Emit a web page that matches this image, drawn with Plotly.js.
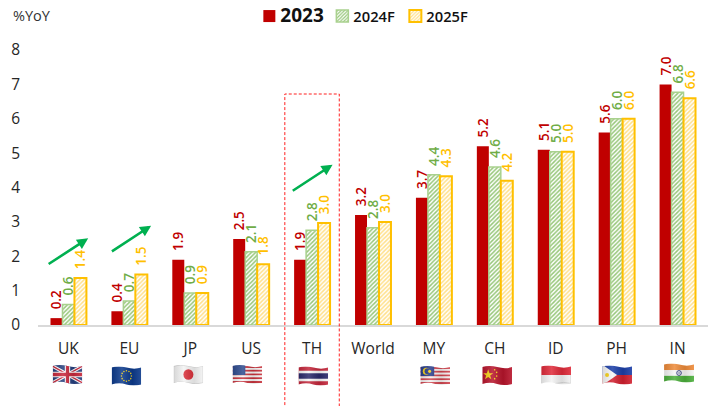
<!DOCTYPE html>
<html>
<head>
<meta charset="utf-8">
<script src="https://cdn.plot.ly/plotly-3.0.1.min.js"></script>
<style>html,body{margin:0;padding:0;background:#fff}#c{width:708px;height:406px}.legend .scrollbox{clip-path:none !important}</style>
</head>
<body>
<div id="c"></div>
<script>
const categories = ['UK','EU','JP','US','TH','World','MY','CH','ID','PH','IN'];
const y2023  = [0.2,0.4,1.9,2.5,1.9,3.2,3.7,5.2,5.1,5.6,7.0];
const y2024F = [0.6,0.7,0.93,2.13,2.76,2.83,4.37,4.6,5.04,6.0,6.77];
const y2025F = [1.37,1.47,0.93,1.77,2.97,3.0,4.33,4.2,5.04,6.0,6.6];
const yTicks = [0,1,2,3,4,5,6,7,8];

const W = 708, H = 406, L = 37.5, R = 708, T = 50, B = 325;
const px = x => (x - L) / (R - L);
const py = y => (B - y) / (B - T);
const FONT = '"Open Sans", sans-serif';

const RED = '#C00000', GREEN = '#70AD47', GREENB = '#A9D18E', YEL = '#FFC000';

function flagSvg(body) {
  const s = '<svg xmlns="http://www.w3.org/2000/svg" width="120" height="80" viewBox="0 0 30 20">' +
    '<defs><clipPath id="w"><path d="M0,2 Q7,0 15,2 T30,2 V18 Q22,20 15,18 T0,18 Z"/></clipPath>' +
    '<linearGradient id="g" x1="0" x2="1" y1="0" y2="0"><stop offset="0" stop-color="#000" stop-opacity=".12"/>' +
    '<stop offset=".35" stop-color="#fff" stop-opacity=".14"/><stop offset=".7" stop-color="#000" stop-opacity=".1"/>' +
    '<stop offset="1" stop-color="#fff" stop-opacity=".1"/></linearGradient></defs>' +
    '<g clip-path="url(#w)">' + body + '<rect width="30" height="20" fill="url(#g)"/></g></svg>';
  return 'data:image/svg+xml;charset=utf-8,' + encodeURIComponent(s);
}
function stripes(n, a, b) {
  let o = '';
  const h = 16 / n;
  for (let i = 0; i < n; i++) o += `<rect x="0" y="${2 + i * h}" width="30" height="${h + .1}" fill="${i % 2 ? b : a}"/>`;
  return o;
}
function ring() {
  let o = '';
  for (let i = 0; i < 12; i++) {
    const t = i * Math.PI / 6;
    o += `<circle cx="${15 + 5 * Math.cos(t)}" cy="${10 + 5 * Math.sin(t)}" r=".75" fill="#F7D117"/>`;
  }
  return o;
}
const flags = [
  [67, 374.5, '<rect width="30" height="20" fill="#27407F"/><path d="M0,2 L30,18 M30,2 L0,18" stroke="#fff" stroke-width="3.4"/><path d="M0,2 L30,18 M30,2 L0,18" stroke="#C8283C" stroke-width="1.2"/><path d="M15,0 V20 M0,10 H30" stroke="#fff" stroke-width="5.4"/><path d="M15,0 V20 M0,10 H30" stroke="#C8283C" stroke-width="3.2"/>'],
  [126, 376, '<rect width="30" height="20" fill="#0C3A8C"/>' + ring()],
  [188, 374.5, '<rect width="30" height="20" fill="#F4F4F4"/><circle cx="15" cy="10" r="5" fill="#D9303A"/><path d="M0.3,2 Q7,0 15,2 T29.7,2 V18 Q22,20 15,18 T0.3,18 Z" fill="none" stroke="#C8C8C8" stroke-width=".7"/>'],
  [247, 374.5, stripes(9, '#C8323C', '#F6F6F6') + '<rect x="0" y="0" width="13" height="10.5" fill="#2F4C8F"/>'],
  [313, 376, '<rect width="30" height="20" fill="#C4283C"/><rect y="5" width="30" height="10" fill="#F5F5F5"/><rect y="7.4" width="30" height="5.2" fill="#2B2A6B"/>'],
  [435, 375.5, stripes(9, '#D0444E', '#F5F0F0') + '<rect x="0" y="0" width="14" height="10.5" fill="#2A3F8C"/><circle cx="6" cy="6" r="3.4" fill="#F7D117"/><circle cx="7.2" cy="6" r="2.8" fill="#2A3F8C"/><circle cx="9.4" cy="6" r="1.5" fill="#F7D117"/>'],
  [497, 375.5, '<rect width="30" height="20" fill="#B8152C"/><path d="M6,4 L7.3,7.8 L11,7.8 L8,10 L9.2,13.6 L6,11.4 L2.8,13.6 L4,10 L1,7.8 L4.7,7.8 Z" fill="#F7D117"/><circle cx="12.5" cy="4.5" r=".8" fill="#F7D117"/><circle cx="14.5" cy="7" r=".8" fill="#F7D117"/><circle cx="14.5" cy="10.5" r=".8" fill="#F7D117"/><circle cx="12.5" cy="13" r=".8" fill="#F7D117"/>'],
  [556, 375, '<rect width="30" height="10" fill="#E02B3A"/><rect y="10" width="30" height="10" fill="#F4F4F4"/><path d="M0.3,10 V18 Q7,20 15,18 T29.7,18 V10" fill="none" stroke="#C8C8C8" stroke-width=".6"/>'],
  [617, 375, '<rect width="30" height="10" fill="#1C3FA8"/><rect y="10" width="30" height="10" fill="#D2202F"/><path d="M0,0 L15,10 L0,20 Z" fill="#F6F6F6"/><circle cx="5" cy="10" r="2" fill="#F7D117"/>'],
  [679, 373, '<rect width="30" height="7.3" fill="#EE8B3A"/><rect y="7.3" width="30" height="5.4" fill="#F5F5F5"/><rect y="12.7" width="30" height="7.3" fill="#4CAF3C"/><circle cx="15" cy="10" r="2.3" fill="none" stroke="#23307A" stroke-width=".9"/><circle cx="15" cy="10" r=".6" fill="#23307A"/>']
];
const images = flags.map(f => ({
  source: flagSvg(f[2]), xref: 'paper', yref: 'paper',
  x: px(f[0]), y: py(f[1]), sizex: 30 / (R - L), sizey: 21 / (B - T),
  xanchor: 'center', yanchor: 'middle', sizing: 'stretch', layer: 'above'
}));

function bar(name, vals, color, marker) {
  return {
    type: 'bar', name, x: categories, y: vals, marker,
    text: vals.map(v => '\u00A0\u2009' + v.toFixed(1)), textposition: 'outside', textangle: -90,
    textfont: {family: FONT, size: 13.5, color, weight: 600},
    constraintext: 'none', cliponaxis: false, hoverinfo: 'skip'
  };
}
const data = [
  bar('<span style="font-size:19px;font-weight:700">2023</span>', y2023, RED, {color: RED, line: {width: 0}}),
  bar('2024F', y2024F, GREEN, {color: '#fff', line: {color: GREENB, width: 1.5},
    pattern: {shape: '/', fgcolor: '#97C77A', bgcolor: '#fff', size: 3, solidity: 0.5}}),
  bar('2025F', y2025F, YEL, {color: '#fff', line: {color: YEL, width: 2},
    pattern: {shape: '/', fgcolor: '#FFE08A', bgcolor: '#fff', size: 3, solidity: 0.5}})
];

const arrows = [[46.7,265,87.7,238.3],[110,252.3,150.7,225.7],[291,191.7,332.3,164.7]];
const annotations = arrows.map(a => ({
  xref: 'paper', yref: 'paper', x: px(a[2]), y: py(a[3]),
  axref: 'pixel', ayref: 'pixel', ax: a[0] - a[2], ay: a[1] - a[3],
  showarrow: true, arrowhead: 2, arrowsize: 0.85, arrowwidth: 2.6, arrowcolor: '#00B050', text: ''
}));
annotations.push({
  xref: 'paper', yref: 'paper', x: px(10), y: py(15), xanchor: 'left', yanchor: 'middle',
  showarrow: false, text: '%YoY', font: {family: FONT, size: 14.5, color: '#333'}
});

const layout = {
  width: W, height: H, paper_bgcolor: '#fff', plot_bgcolor: '#fff',
  margin: {l: L, r: W - R, t: T, b: H - B, pad: 0},
  font: {family: FONT, color: '#262626'},
  barmode: 'group', bargap: 0.41, bargroupgap: 0,
  xaxis: {type: 'category', categoryorder: 'array', categoryarray: categories, fixedrange: true,
    showgrid: false, zeroline: false, showline: true, linecolor: '#D9D9D9', linewidth: 1.5,
    ticks: '', tickfont: {family: FONT, size: 15.5, color: '#262626'}, ticklabelstandoff: 9},
  yaxis: {range: [0, 8], tickvals: yTicks, ticktext: yTicks.map(String), fixedrange: true,
    showgrid: false, zeroline: false, showline: false, ticks: '',
    tickfont: {family: FONT, size: 15.5, color: '#262626'}, ticklabelstandoff: 17},
  legend: {orientation: 'h', xref: 'paper', yref: 'paper', x: px(240), y: py(0), xanchor: 'left', yanchor: 'top',
    font: {family: FONT, size: 14.7, color: '#111', weight: 600}, itemwidth: 30, traceorder: 'normal',
    entrywidth: 28, entrywidthmode: 'pixels', itemclick: false, itemdoubleclick: false},
  shapes: [{type: 'rect', xref: 'paper', yref: 'paper', x0: px(284.5), x1: px(339), y0: py(407), y1: py(94),
    line: {color: '#FF2020', width: 1, dash: '3px,2px'}, fillcolor: 'rgba(0,0,0,0)', layer: 'above'}],
  annotations, images
};
Plotly.newPlot('c', data, layout, {displayModeBar: false, staticPlot: true}).then(() => {
  document.querySelectorAll('.legend .traces .layers').forEach(el => {
    el.setAttribute('transform', 'translate(9,0) ' + (el.getAttribute('transform') || ''));
  });
  document.querySelectorAll('.legend .scrollbox').forEach(el => el.removeAttribute('clip-path'));
});
</script>
</body>
</html>
